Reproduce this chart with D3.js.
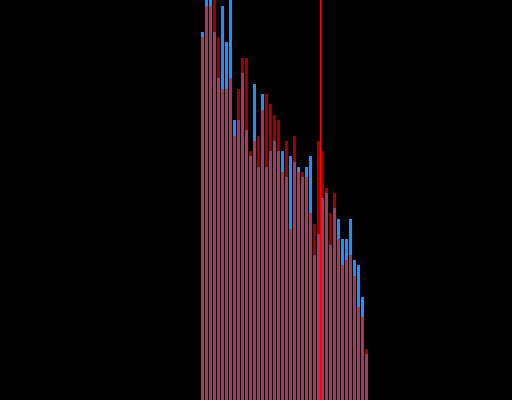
<!DOCTYPE html>
<html>
<head>
<meta charset="utf-8">
<script src="https://cdn.jsdelivr.net/npm/d3@7"></script>
<style>
  html, body { margin: 0; padding: 0; background: #000; }
  svg { display: block; }
</style>
</head>
<body>
<svg id="chart" width="512" height="400"></svg>
<script>
// Bin indices (histogram bins)
const bins = d3.range(42);
// Series A (blue) counts per bin
const seriesA = [92, 104, 104, 92, 80.5, 98.5, 89.5, 104, 70, 70,
  81.75, 67.5, 61, 79, 58.25, 76.5, 58.25, 62.25, 64.75, 62.25,
  62.25, 55.75, 61, 59.5, 58.25, 55.75, 58.25, 61, 36.25, 41.5,
  50.5, 51.75, 38.75, 48, 45.25, 40.25, 40.25, 45.25, 35, 33.75,
  25.75, 11.5];
// Series B (red) counts per bin
const seriesB = [90.75, 98.5, 98.5, 104, 90.75, 77.75, 77.75, 80.5, 66, 77.75,
  85.5, 85.5, 62.25, 64.75, 66, 72.5, 76.5, 74, 71.25, 70,
  57, 64.75, 42.75, 66, 57, 57, 55.75, 46.75, 44, 64.75,
  62.25, 53, 46.75, 51.75, 40.25, 33.75, 35, 36.25, 31, 23.25,
  20.75, 12.75];
// Reference marker position (in bin units)
const markerValue = [29.9375];

const W = 512, H = 400;
const svg = d3.select("#chart");
svg.append("rect").attr("width", W).attr("height", H).attr("fill", "#000");

const x = d3.scaleLinear().domain([-50.25, 77.75]).range([0, W]);
const y = d3.scaleLinear().domain([0, 100]).range([H, 0]);

const g = svg.append("g").attr("shape-rendering", "crispEdges");

g.selectAll("rect.a").data(bins).join("rect")
  .attr("class", "a")
  .attr("x", d => x(d))
  .attr("width", d => x(d + 1) - x(d) - 1)
  .attr("y", d => y(seriesA[d]))
  .attr("height", d => y(0) - y(seriesA[d]))
  .attr("fill", "#1e90ff");

g.selectAll("rect.b").data(bins).join("rect")
  .attr("class", "b")
  .attr("x", d => x(d))
  .attr("width", d => x(d + 1) - x(d) - 1)
  .attr("y", d => y(seriesB[d]))
  .attr("height", d => y(0) - y(seriesB[d]))
  .attr("fill", "#ff0000")
  .attr("fill-opacity", 0.62);

svg.selectAll("line.marker").data(markerValue).join("line")
  .attr("class", "marker")
  .attr("x1", d => x(d)).attr("x2", d => x(d))
  .attr("y1", 0).attr("y2", H)
  .attr("stroke", "#ff0000")
  .attr("stroke-width", 1.5);
</script>
</body>
</html>
